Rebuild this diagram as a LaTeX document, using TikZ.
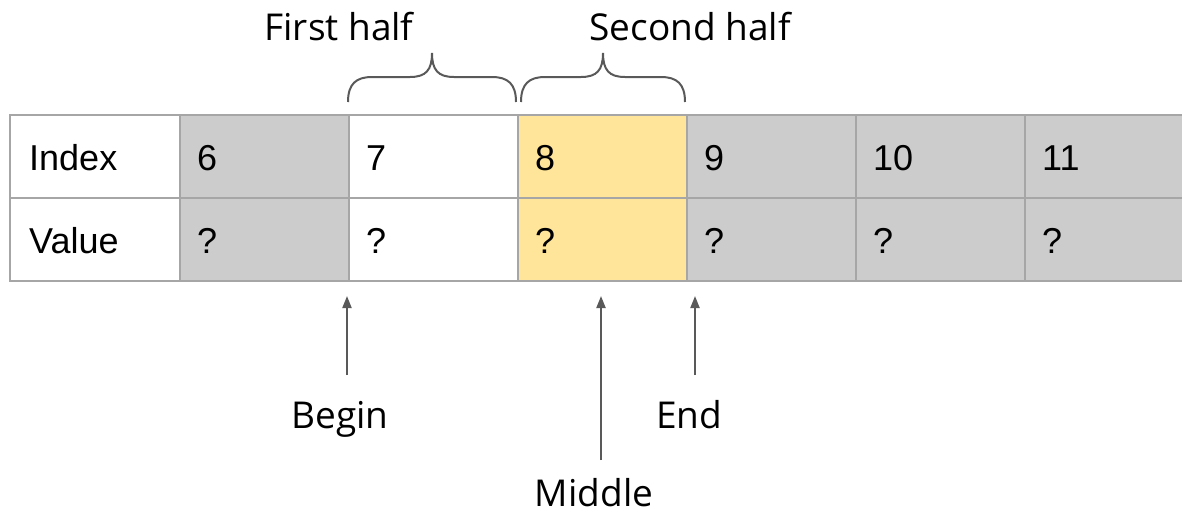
\documentclass[tikz,border=0pt]{standalone}
\usepackage{fontspec}
\setmainfont{Open Sans}
\newfontfamily\arialf{Liberation Sans}
\usetikzlibrary{arrows.meta}
\definecolor{cellgray}{HTML}{CCCCCC}
\definecolor{cellyellow}{HTML}{FFE599}
\definecolor{gridline}{HTML}{A6A6A6}
\definecolor{ink}{HTML}{595959}
\tikzset{
  cell/.style={draw=gridline, line width=2pt, minimum width=169pt, minimum height=83pt, inner sep=0pt, outer sep=0pt, anchor=north west},
  celltext/.style={font=\arialf\fontsize{36}{40}\selectfont, anchor=base west, inner sep=0pt},
  lbl/.style={font=\fontsize{37}{42}\selectfont, anchor=base, inner sep=0pt},
  arr/.style={draw=ink, line width=2pt, -{Triangle[width=9pt,length=12pt]}},
  brace/.style={draw=ink, line width=2pt}
}
\begin{document}
\begin{tikzpicture}[x=1pt,y=-1pt]
\useasboundingbox (0,0) rectangle (1182,515);
% cells
\node[cell, fill=white, minimum width=170pt] (h1) at (10,115) {};
\node[cell, fill=white, minimum width=170pt] (h2) at (10,198) {};
\node[cell, fill=cellgray] (a1) at (180,115) {};
\node[cell, fill=cellgray] (a2) at (180,198) {};
\node[cell, fill=white] (b1) at (349,115) {};
\node[cell, fill=white] (b2) at (349,198) {};
\node[cell, fill=cellyellow] (c1) at (518,115) {};
\node[cell, fill=cellyellow] (c2) at (518,198) {};
\node[cell, fill=cellgray] (d1) at (687,115) {};
\node[cell, fill=cellgray] (d2) at (687,198) {};
\node[cell, fill=cellgray] (e1) at (856,115) {};
\node[cell, fill=cellgray] (e2) at (856,198) {};
\node[cell, fill=cellgray, minimum width=200pt] (f1) at (1025,115) {};
\node[cell, fill=cellgray, minimum width=200pt] (f2) at (1025,198) {};
% texts
\node[celltext] (tIndex) at (29,170) {Index};
\node[celltext] (tValue) at (29,253) {Value};
\node[celltext] (i6) at (197,170) {6};
\node[celltext] (v6) at (197,253) {?};
\node[celltext] (i7) at (366,170) {7};
\node[celltext] (v7) at (366,253) {?};
\node[celltext] (i8) at (535,170) {8};
\node[celltext] (v8) at (535,253) {?};
\node[celltext] (i9) at (704,170) {9};
\node[celltext] (v9) at (704,253) {?};
\node[celltext] (i10) at (873,170) {10};
\node[celltext] (v10) at (873,253) {?};
\node[celltext] (i11) at (1042,170) {11};
\node[celltext] (v11) at (1042,253) {?};
% braces
\draw[brace] (348,102) .. controls (348,84) and (356,77) .. (372,77) -- (410,77) .. controls (426,77) and (432,70) .. (432,53) .. controls (432,70) and (438,77) .. (454,77) -- (492,77) .. controls (508,77) and (516,84) .. (516,102);
\draw[brace] (521,102) .. controls (521,84) and (529,77) .. (545,77) -- (581,77) .. controls (597,77) and (603,70) .. (603,53) .. controls (603,70) and (609,77) .. (625,77) -- (661,77) .. controls (677,77) and (685,84) .. (685,102);
\node[lbl] (first) at (339,40) {First half};
\node[lbl] (second) at (690,40) {Second half};
% pointers
\node[lbl] (begin) at (340,428) {Begin};
\node[lbl] (end) at (689,428) {End};
\node[lbl] (middle) at (594,506) {Middle};
\coordinate (bTop) at (347,296);
\coordinate (bBot) at (347,375);
\coordinate (mTop) at (601,296);
\coordinate (mBot) at (601,460);
\coordinate (eTop) at (695,296);
\coordinate (eBot) at (695,375);
\draw[arr] (bBot) -- (bTop);
\draw[arr] (mBot) -- (mTop);
\draw[arr] (eBot) -- (eTop);
\end{tikzpicture}
\end{document}
